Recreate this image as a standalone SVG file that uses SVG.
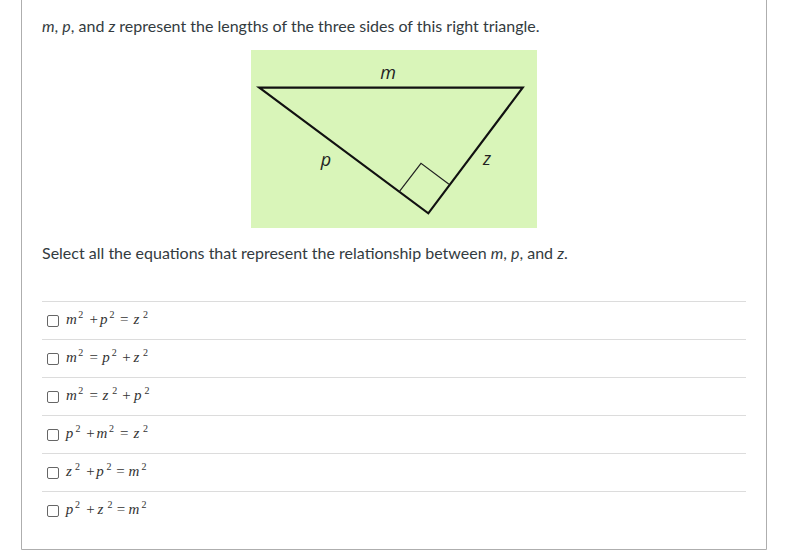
<svg xmlns="http://www.w3.org/2000/svg" width="794" height="556" viewBox="0 0 794 556">
<style>
.body{font-family:Lato,"Liberation Sans",sans-serif;font-size:16px;fill:#333b40}
.it{font-style:italic}
.sep{stroke:#dcdcdc;stroke-width:1}
.cb{fill:#fff;stroke:#666;stroke-width:1}
.lbl{font-family:"Open Sans","Liberation Sans",sans-serif;font-size:18px;font-style:italic;fill:#222}
</style>
<rect x="0" y="0" width="794" height="556" fill="#fff"/>
<path d="M21.5 -2 V549.5 H766.5 V-2" fill="none" stroke="#aeaeae" stroke-width="1"/>
<text class="body" x="42" y="32"><tspan class="it">m</tspan>, <tspan class="it">p</tspan>, and <tspan class="it">z</tspan> represent the lengths of the three sides of this right triangle.</text>
<g id="figure">
<rect x="251" y="50" width="286" height="178" fill="#d9f5b9"/>
<polygon points="259.3,87.7 522.7,87.7 428.3,213.3" fill="none" stroke="#111" stroke-width="2.2" stroke-linejoin="miter"/>
<polyline points="399.3,191.7 421,163.3 449,184.3" fill="none" stroke="#222" stroke-width="1.2"/>
<text class="lbl" x="388" y="79" text-anchor="middle">m</text>
<text class="lbl" x="326" y="166" text-anchor="middle">p</text>
<text class="lbl" x="487" y="165" text-anchor="middle">z</text>
</g>
<text class="body" x="42" y="259">Select all the equations that represent the relationship between <tspan class="it">m</tspan>, <tspan class="it">p</tspan>, and <tspan class="it">z</tspan>.</text>
<g id="separators">
<line class="sep" x1="42" y1="301.5" x2="746" y2="301.5"/>
<line class="sep" x1="42" y1="339.5" x2="746" y2="339.5"/>
<line class="sep" x1="42" y1="377.5" x2="746" y2="377.5"/>
<line class="sep" x1="42" y1="415.5" x2="746" y2="415.5"/>
<line class="sep" x1="42" y1="453.5" x2="746" y2="453.5"/>
<line class="sep" x1="42" y1="491.5" x2="746" y2="491.5"/>
</g>
<g font-family="'Liberation Serif', 'Times New Roman', serif" font-size="15" fill="#333">
<g id="opt1">
<rect class="cb" x="47.5" y="315.5" width="11" height="11" rx="1.5"/>
<text x="66" y="324" font-style="italic">m</text><text x="78.3" y="318" font-size="10">2</text>
<text x="89.5" y="324">+</text>
<text x="100" y="324" font-style="italic">p</text><text x="109.5" y="318" font-size="10">2</text>
<text x="120" y="324">=</text>
<text x="133.5" y="324" font-style="italic">z</text><text x="143" y="318" font-size="10">2</text>
</g>
<g id="opt2">
<rect class="cb" x="47.5" y="353.5" width="11" height="11" rx="1.5"/>
<text x="66" y="362" font-style="italic">m</text><text x="78.3" y="356" font-size="10">2</text>
<text x="89.5" y="362">=</text>
<text x="102.3" y="362" font-style="italic">p</text><text x="111.8" y="356" font-size="10">2</text>
<text x="122.2" y="362">+</text>
<text x="133.5" y="362" font-style="italic">z</text><text x="143" y="356" font-size="10">2</text>
</g>
<g id="opt3">
<rect class="cb" x="47.5" y="391.5" width="11" height="11" rx="1.5"/>
<text x="66" y="400" font-style="italic">m</text><text x="78.3" y="394" font-size="10">2</text>
<text x="89.5" y="400">=</text>
<text x="102.5" y="400" font-style="italic">z</text><text x="112.3" y="394" font-size="10">2</text>
<text x="122.2" y="400">+</text>
<text x="134" y="400" font-style="italic">p</text><text x="144.5" y="394" font-size="10">2</text>
</g>
<g id="opt4">
<rect class="cb" x="47.5" y="429.5" width="11" height="11" rx="1.5"/>
<text x="65.7" y="438" font-style="italic">p</text><text x="75.4" y="432" font-size="10">2</text>
<text x="86.2" y="438">+</text>
<text x="96.6" y="438" font-style="italic">m</text><text x="109" y="432" font-size="10">2</text>
<text x="120" y="438">=</text>
<text x="133.5" y="438" font-style="italic">z</text><text x="143" y="432" font-size="10">2</text>
</g>
<g id="opt5">
<rect class="cb" x="47.5" y="467.5" width="11" height="11" rx="1.5"/>
<text x="66" y="476" font-style="italic">z</text><text x="75" y="470" font-size="10">2</text>
<text x="86.2" y="476">+</text>
<text x="96.3" y="476" font-style="italic">p</text><text x="106.4" y="470" font-size="10">2</text>
<text x="116.2" y="476">=</text>
<text x="128.6" y="476" font-style="italic">m</text><text x="141.4" y="470" font-size="10">2</text>
</g>
<g id="opt6">
<rect class="cb" x="47.5" y="505.5" width="11" height="11" rx="1.5"/>
<text x="65.7" y="514" font-style="italic">p</text><text x="75" y="508" font-size="10">2</text>
<text x="86.2" y="514">+</text>
<text x="97.6" y="514" font-style="italic">z</text><text x="107.4" y="508" font-size="10">2</text>
<text x="116.8" y="514">=</text>
<text x="128.6" y="514" font-style="italic">m</text><text x="141.4" y="508" font-size="10">2</text>
</g>
</g>
</svg>
